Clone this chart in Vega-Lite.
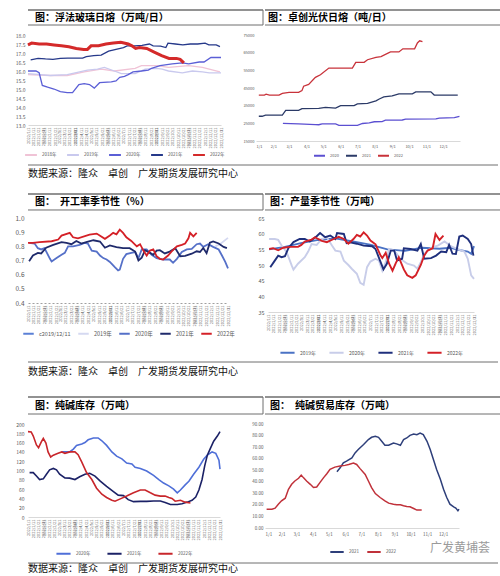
{
"$schema": "https://vega.github.io/schema/vega-lite/v6.json",
"padding": {"left": 5, "top": 9, "right": 5, "bottom": 0},
"background": "white",
"spacing": 4,
"resolve": {"scale": {"color": "independent"}, "legend": {"color": "independent"}},
"datasets": {
"g": [
{"d":"2022/01/01","s":"2018年","v":15.8},{"d":"2022/02/12","s":"2018年","v":15.75},{"d":"2022/03/16","s":"2018年","v":15.75},{"d":"2022/04/17","s":"2018年","v":15.95},{"d":"2022/05/19","s":"2018年","v":16.1},{"d":"2022/06/13","s":"2018年","v":16.0},{"d":"2022/07/22","s":"2018年","v":16.15},{"d":"2022/08/03","s":"2018年","v":16.3},{"d":"2022/09/01","s":"2018年","v":16.3},{"d":"2022/09/23","s":"2018年","v":16.2},{"d":"2022/10/31","s":"2018年","v":16.3},{"d":"2022/11/26","s":"2018年","v":16.2},{"d":"2022/12/29","s":"2018年","v":15.95},
{"d":"2022/01/01","s":"2019年","v":15.85},{"d":"2022/02/12","s":"2019年","v":15.75},{"d":"2022/03/16","s":"2019年","v":15.8},{"d":"2022/04/23","s":"2019年","v":16.05},{"d":"2022/05/12","s":"2019年","v":16.1},{"d":"2022/05/25","s":"2019年","v":16.2},{"d":"2022/06/13","s":"2019年","v":16.0},{"d":"2022/06/26","s":"2019年","v":15.85},{"d":"2022/07/22","s":"2019年","v":15.85},{"d":"2022/08/10","s":"2019年","v":16.1},{"d":"2022/09/01","s":"2019年","v":16.15},{"d":"2022/09/11","s":"2019年","v":16.1},{"d":"2022/09/23","s":"2019年","v":16.0},{"d":"2022/10/19","s":"2019年","v":15.9},{"d":"2022/11/07","s":"2019年","v":16.0},{"d":"2022/11/26","s":"2019年","v":15.95},{"d":"2022/12/09","s":"2019年","v":15.9},{"d":"2022/12/31","s":"2019年","v":15.9},
{"d":"2022/01/01","s":"2020年","v":16.0},{"d":"2022/01/16","s":"2020年","v":16.0},{"d":"2022/01/22","s":"2020年","v":15.9},{"d":"2022/01/28","s":"2020年","v":15.2},{"d":"2022/02/07","s":"2020年","v":15.1},{"d":"2022/02/19","s":"2020年","v":15.0},{"d":"2022/03/03","s":"2020年","v":14.85},{"d":"2022/03/16","s":"2020年","v":14.8},{"d":"2022/03/26","s":"2020年","v":14.8},{"d":"2022/04/07","s":"2020年","v":15.25},{"d":"2022/04/17","s":"2020年","v":15.3},{"d":"2022/04/27","s":"2020年","v":15.25},{"d":"2022/05/06","s":"2020年","v":15.05},{"d":"2022/05/16","s":"2020年","v":15.35},{"d":"2022/06/07","s":"2020年","v":15.4},{"d":"2022/06/16","s":"2020年","v":15.45},{"d":"2022/06/23","s":"2020年","v":15.65},{"d":"2022/07/02","s":"2020年","v":15.7},{"d":"2022/07/09","s":"2020年","v":15.8},{"d":"2022/07/18","s":"2020年","v":15.95},{"d":"2022/08/03","s":"2020年","v":16.0},{"d":"2022/08/16","s":"2020年","v":16.05},{"d":"2022/08/22","s":"2020年","v":16.15},{"d":"2022/09/07","s":"2020年","v":16.3},{"d":"2022/09/30","s":"2020年","v":16.4},{"d":"2022/10/19","s":"2020年","v":16.45},{"d":"2022/10/31","s":"2020年","v":16.4},{"d":"2022/11/20","s":"2020年","v":16.5},{"d":"2022/11/29","s":"2020年","v":16.5},{"d":"2022/12/12","s":"2020年","v":16.75},{"d":"2022/12/31","s":"2020年","v":16.75},
{"d":"2022/01/06","s":"2021年","v":16.62},{"d":"2022/01/20","s":"2021年","v":16.7},{"d":"2022/02/03","s":"2021年","v":16.67},{"d":"2022/02/17","s":"2021年","v":16.65},{"d":"2022/03/03","s":"2021年","v":16.7},{"d":"2022/03/17","s":"2021年","v":16.72},{"d":"2022/04/14","s":"2021年","v":16.72},{"d":"2022/04/21","s":"2021年","v":16.8},{"d":"2022/05/05","s":"2021年","v":16.85},{"d":"2022/05/19","s":"2021年","v":16.88},{"d":"2022/06/02","s":"2021年","v":17.1},{"d":"2022/06/16","s":"2021年","v":17.2},{"d":"2022/06/30","s":"2021年","v":17.3},{"d":"2022/07/07","s":"2021年","v":17.4},{"d":"2022/07/21","s":"2021年","v":17.4},{"d":"2022/08/04","s":"2021年","v":17.42},{"d":"2022/08/18","s":"2021年","v":17.5},{"d":"2022/08/25","s":"2021年","v":17.4},{"d":"2022/09/08","s":"2021年","v":17.38},{"d":"2022/09/18","s":"2021年","v":17.3},{"d":"2022/09/22","s":"2021年","v":17.55},{"d":"2022/10/06","s":"2021年","v":17.5},{"d":"2022/10/20","s":"2021年","v":17.45},{"d":"2022/11/03","s":"2021年","v":17.5},{"d":"2022/11/17","s":"2021年","v":17.5},{"d":"2022/12/01","s":"2021年","v":17.55},{"d":"2022/12/08","s":"2021年","v":17.45},{"d":"2022/12/22","s":"2021年","v":17.45},{"d":"2022/12/29","s":"2021年","v":17.35},
{"d":"2022/01/01","s":"2022年","v":17.45},{"d":"2022/01/08","s":"2022年","v":17.55},{"d":"2022/01/22","s":"2022年","v":17.5},{"d":"2022/02/05","s":"2022年","v":17.5},{"d":"2022/02/19","s":"2022年","v":17.45},{"d":"2022/03/05","s":"2022年","v":17.4},{"d":"2022/03/19","s":"2022年","v":17.35},{"d":"2022/04/02","s":"2022年","v":17.25},{"d":"2022/04/16","s":"2022年","v":17.2},{"d":"2022/04/23","s":"2022年","v":17.2},{"d":"2022/04/30","s":"2022年","v":17.4},{"d":"2022/05/14","s":"2022年","v":17.4},{"d":"2022/05/28","s":"2022年","v":17.5},{"d":"2022/06/11","s":"2022年","v":17.55},{"d":"2022/06/25","s":"2022年","v":17.6},{"d":"2022/07/09","s":"2022年","v":17.5},{"d":"2022/07/16","s":"2022年","v":17.4},{"d":"2022/07/23","s":"2022年","v":17.25},{"d":"2022/07/30","s":"2022年","v":17.3},{"d":"2022/08/13","s":"2022年","v":17.25},{"d":"2022/08/27","s":"2022年","v":17.05},{"d":"2022/09/10","s":"2022年","v":16.85},{"d":"2022/09/24","s":"2022年","v":16.7},{"d":"2022/10/08","s":"2022年","v":16.7},{"d":"2022/10/15","s":"2022年","v":16.65},{"d":"2022/10/22","s":"2022年","v":16.45}
],
"pv": [
{"d":"2022/02/18","s":"2020","v":25000},{"d":"2022/03/18","s":"2020","v":24700},{"d":"2022/04/17","s":"2020","v":24300},{"d":"2022/04/23","s":"2020","v":24200},{"d":"2022/04/29","s":"2020","v":24700},{"d":"2022/05/23","s":"2020","v":24700},{"d":"2022/05/29","s":"2020","v":23900},{"d":"2022/07/01","s":"2020","v":23900},{"d":"2022/07/10","s":"2020","v":24900},{"d":"2022/07/22","s":"2020","v":25300},{"d":"2022/07/31","s":"2020","v":25900},{"d":"2022/08/14","s":"2020","v":26000},{"d":"2022/08/20","s":"2020","v":26800},{"d":"2022/09/19","s":"2020","v":26900},{"d":"2022/09/25","s":"2020","v":27400},{"d":"2022/11/18","s":"2020","v":27500},{"d":"2022/11/24","s":"2020","v":28000},{"d":"2022/12/21","s":"2020","v":28200},{"d":"2022/12/30","s":"2020","v":29000},
{"d":"2022/01/06","s":"2021","v":29000},{"d":"2022/01/12","s":"2021","v":29000},{"d":"2022/01/18","s":"2021","v":29700},{"d":"2022/02/17","s":"2021","v":29700},{"d":"2022/02/23","s":"2021","v":32300},{"d":"2022/03/18","s":"2021","v":32300},{"d":"2022/03/24","s":"2021","v":33300},{"d":"2022/04/23","s":"2021","v":33500},{"d":"2022/05/05","s":"2021","v":34000},{"d":"2022/05/23","s":"2021","v":33600},{"d":"2022/06/01","s":"2021","v":35000},{"d":"2022/06/25","s":"2021","v":35000},{"d":"2022/07/01","s":"2021","v":36000},{"d":"2022/07/19","s":"2021","v":36300},{"d":"2022/08/03","s":"2021","v":37700},{"d":"2022/08/09","s":"2021","v":38800},{"d":"2022/08/17","s":"2021","v":40000},{"d":"2022/09/01","s":"2021","v":40500},{"d":"2022/09/13","s":"2021","v":41700},{"d":"2022/10/07","s":"2021","v":41700},{"d":"2022/10/13","s":"2021","v":42800},{"d":"2022/11/09","s":"2021","v":42800},{"d":"2022/11/15","s":"2021","v":41000},{"d":"2022/12/27","s":"2021","v":41000},
{"d":"2022/01/06","s":"2022","v":41000},{"d":"2022/01/16","s":"2022","v":41000},{"d":"2022/01/19","s":"2022","v":41500},{"d":"2022/01/25","s":"2022","v":41000},{"d":"2022/02/11","s":"2022","v":41000},{"d":"2022/02/17","s":"2022","v":42000},{"d":"2022/03/01","s":"2022","v":42500},{"d":"2022/03/18","s":"2022","v":42500},{"d":"2022/03/24","s":"2022","v":43500},{"d":"2022/03/27","s":"2022","v":46000},{"d":"2022/04/05","s":"2022","v":47000},{"d":"2022/04/17","s":"2022","v":51000},{"d":"2022/04/26","s":"2022","v":52500},{"d":"2022/05/11","s":"2022","v":56300},{"d":"2022/06/22","s":"2022","v":56300},{"d":"2022/06/28","s":"2022","v":59500},{"d":"2022/07/13","s":"2022","v":59500},{"d":"2022/07/19","s":"2022","v":61000},{"d":"2022/08/03","s":"2022","v":62300},{"d":"2022/08/12","s":"2022","v":62800},{"d":"2022/08/20","s":"2022","v":64000},{"d":"2022/08/29","s":"2022","v":65400},{"d":"2022/09/13","s":"2022","v":65400},{"d":"2022/09/20","s":"2022","v":67200},{"d":"2022/10/11","s":"2022","v":67200},{"d":"2022/10/16","s":"2022","v":70500},{"d":"2022/10/20","s":"2022","v":71700},{"d":"2022/10/25","s":"2022","v":71200}
],
"op": [
{"d":"2022/12/08","s":"2019年","v":0.80},{"d":"2022/12/18","s":"2019年","v":0.82},{"d":"2022/12/31","s":"2019年","v":0.86},
{"d":"2022/01/03","s":"2020年","v":0.824},{"d":"2022/01/13","s":"2020年","v":0.82},{"d":"2022/01/19","s":"2020年","v":0.787},{"d":"2022/01/25","s":"2020年","v":0.778},{"d":"2022/01/31","s":"2020年","v":0.787},{"d":"2022/02/10","s":"2020年","v":0.712},{"d":"2022/02/13","s":"2020年","v":0.693},{"d":"2022/02/22","s":"2020年","v":0.717},{"d":"2022/03/03","s":"2020年","v":0.74},{"d":"2022/03/09","s":"2020年","v":0.754},{"d":"2022/03/15","s":"2020年","v":0.80},{"d":"2022/03/24","s":"2020年","v":0.80},{"d":"2022/04/05","s":"2020年","v":0.81},{"d":"2022/04/14","s":"2020年","v":0.824},{"d":"2022/04/20","s":"2020年","v":0.82},{"d":"2022/04/27","s":"2020年","v":0.77},{"d":"2022/05/06","s":"2020年","v":0.763},{"d":"2022/05/12","s":"2020年","v":0.735},{"d":"2022/05/18","s":"2020年","v":0.717},{"d":"2022/05/24","s":"2020年","v":0.707},{"d":"2022/05/30","s":"2020年","v":0.69},{"d":"2022/06/08","s":"2020年","v":0.653},{"d":"2022/06/14","s":"2020年","v":0.63},{"d":"2022/06/17","s":"2020年","v":0.635},{"d":"2022/06/23","s":"2020年","v":0.712},{"d":"2022/06/29","s":"2020年","v":0.745},{"d":"2022/07/08","s":"2020年","v":0.754},{"d":"2022/07/15","s":"2020年","v":0.76},{"d":"2022/07/21","s":"2020年","v":0.717},{"d":"2022/07/27","s":"2020年","v":0.778},{"d":"2022/08/05","s":"2020年","v":0.778},{"d":"2022/08/14","s":"2020年","v":0.74},{"d":"2022/08/23","s":"2020年","v":0.717},{"d":"2022/08/29","s":"2020年","v":0.712},{"d":"2022/09/04","s":"2020年","v":0.707},{"d":"2022/09/16","s":"2020年","v":0.707},{"d":"2022/09/22","s":"2020年","v":0.684},{"d":"2022/09/29","s":"2020年","v":0.712},{"d":"2022/10/08","s":"2020年","v":0.76},{"d":"2022/10/17","s":"2020年","v":0.778},{"d":"2022/10/26","s":"2020年","v":0.782},{"d":"2022/11/04","s":"2020年","v":0.815},{"d":"2022/11/10","s":"2020年","v":0.82},{"d":"2022/11/16","s":"2020年","v":0.796},{"d":"2022/11/25","s":"2020年","v":0.815},{"d":"2022/12/04","s":"2020年","v":0.796},{"d":"2022/12/14","s":"2020年","v":0.778},{"d":"2022/12/20","s":"2020年","v":0.735},{"d":"2022/12/26","s":"2020年","v":0.69},{"d":"2022/12/31","s":"2020年","v":0.645},
{"d":"2022/01/03","s":"2021年","v":0.695},{"d":"2022/01/10","s":"2021年","v":0.735},{"d":"2022/01/19","s":"2021年","v":0.754},{"d":"2022/01/25","s":"2021年","v":0.75},{"d":"2022/02/03","s":"2021年","v":0.79},{"d":"2022/02/16","s":"2021年","v":0.81},{"d":"2022/03/03","s":"2021年","v":0.83},{"d":"2022/03/12","s":"2021年","v":0.824},{"d":"2022/03/21","s":"2021年","v":0.815},{"d":"2022/03/30","s":"2021年","v":0.838},{"d":"2022/04/08","s":"2021年","v":0.82},{"d":"2022/04/17","s":"2021年","v":0.83},{"d":"2022/04/30","s":"2021年","v":0.843},{"d":"2022/05/12","s":"2021年","v":0.834},{"d":"2022/05/21","s":"2021年","v":0.79},{"d":"2022/05/30","s":"2021年","v":0.806},{"d":"2022/06/11","s":"2021年","v":0.794},{"d":"2022/06/23","s":"2021年","v":0.787},{"d":"2022/07/05","s":"2021年","v":0.787},{"d":"2022/07/15","s":"2021年","v":0.763},{"d":"2022/07/21","s":"2021年","v":0.70},{"d":"2022/07/27","s":"2021年","v":0.72},{"d":"2022/08/02","s":"2021年","v":0.773},{"d":"2022/08/11","s":"2021年","v":0.754},{"d":"2022/08/17","s":"2021年","v":0.74},{"d":"2022/08/23","s":"2021年","v":0.77},{"d":"2022/08/29","s":"2021年","v":0.773},{"d":"2022/09/07","s":"2021年","v":0.75},{"d":"2022/09/16","s":"2021年","v":0.763},{"d":"2022/09/26","s":"2021年","v":0.787},{"d":"2022/10/05","s":"2021年","v":0.73},{"d":"2022/10/14","s":"2021年","v":0.732},{"d":"2022/10/26","s":"2021年","v":0.748},{"d":"2022/11/04","s":"2021年","v":0.765},{"d":"2022/11/10","s":"2021年","v":0.76},{"d":"2022/11/16","s":"2021年","v":0.788},{"d":"2022/11/22","s":"2021年","v":0.752},{"d":"2022/11/28","s":"2021年","v":0.826},{"d":"2022/12/04","s":"2021年","v":0.834},{"d":"2022/12/14","s":"2021年","v":0.82},{"d":"2022/12/23","s":"2021年","v":0.796},{"d":"2022/12/29","s":"2021年","v":0.787},
{"d":"2022/01/01","s":"2022年","v":0.824},{"d":"2022/01/10","s":"2022年","v":0.824},{"d":"2022/01/22","s":"2022年","v":0.83},{"d":"2022/02/13","s":"2022年","v":0.836},{"d":"2022/02/25","s":"2022年","v":0.848},{"d":"2022/03/03","s":"2022年","v":0.876},{"d":"2022/03/18","s":"2022年","v":0.895},{"d":"2022/03/24","s":"2022年","v":0.864},{"d":"2022/04/02","s":"2022年","v":0.857},{"d":"2022/04/23","s":"2022年","v":0.883},{"d":"2022/05/06","s":"2022年","v":0.89},{"d":"2022/05/21","s":"2022年","v":0.853},{"d":"2022/05/30","s":"2022年","v":0.876},{"d":"2022/06/05","s":"2022年","v":0.895},{"d":"2022/06/11","s":"2022年","v":0.885},{"d":"2022/06/17","s":"2022年","v":0.918},{"d":"2022/06/23","s":"2022年","v":0.895},{"d":"2022/06/29","s":"2022年","v":0.864},{"d":"2022/07/08","s":"2022年","v":0.838},{"d":"2022/07/18","s":"2022年","v":0.80},{"d":"2022/07/24","s":"2022年","v":0.815},{"d":"2022/07/30","s":"2022年","v":0.77},{"d":"2022/08/05","s":"2022年","v":0.735},{"d":"2022/08/11","s":"2022年","v":0.77},{"d":"2022/08/17","s":"2022年","v":0.778},{"d":"2022/08/23","s":"2022年","v":0.73},{"d":"2022/08/29","s":"2022年","v":0.712},{"d":"2022/09/04","s":"2022年","v":0.707},{"d":"2022/09/13","s":"2022年","v":0.735},{"d":"2022/09/19","s":"2022年","v":0.763},{"d":"2022/09/29","s":"2022年","v":0.80},{"d":"2022/10/08","s":"2022年","v":0.81},{"d":"2022/10/14","s":"2022年","v":0.82},{"d":"2022/10/20","s":"2022年","v":0.857},{"d":"2022/10/23","s":"2022年","v":0.895},{"d":"2022/10/29","s":"2022年","v":0.87},{"d":"2022/11/04","s":"2022年","v":0.895}
],
"pr": [
{"d":"2022/01/03","s":"2019年","v":55.0},{"d":"2022/01/31","s":"2019年","v":55.8},{"d":"2022/02/28","s":"2019年","v":57.0},{"d":"2022/03/31","s":"2019年","v":58.0},{"d":"2022/04/30","s":"2019年","v":58.5},{"d":"2022/05/31","s":"2019年","v":57.5},{"d":"2022/06/30","s":"2019年","v":56.5},{"d":"2022/07/31","s":"2019年","v":55.0},{"d":"2022/08/31","s":"2019年","v":54.5},{"d":"2022/09/30","s":"2019年","v":55.5},{"d":"2022/10/31","s":"2019年","v":55.2},{"d":"2022/11/20","s":"2019年","v":55.5},{"d":"2022/12/05","s":"2019年","v":54.8},{"d":"2022/12/20","s":"2019年","v":54.3},{"d":"2022/12/26","s":"2019年","v":53.6},{"d":"2022/12/31","s":"2019年","v":56.0},
{"d":"2022/01/03","s":"2020年","v":58.3},{"d":"2022/01/13","s":"2020年","v":58.3},{"d":"2022/01/19","s":"2020年","v":58.0},{"d":"2022/01/25","s":"2020年","v":56.2},{"d":"2022/02/03","s":"2020年","v":54.1},{"d":"2022/02/12","s":"2020年","v":49.8},{"d":"2022/02/15","s":"2020年","v":48.5},{"d":"2022/02/23","s":"2020年","v":50.4},{"d":"2022/03/07","s":"2020年","v":52.5},{"d":"2022/03/13","s":"2020年","v":54.3},{"d":"2022/03/19","s":"2020年","v":56.7},{"d":"2022/03/28","s":"2020年","v":56.4},{"d":"2022/04/06","s":"2020年","v":58.3},{"d":"2022/04/15","s":"2020年","v":58.85},{"d":"2022/04/24","s":"2020年","v":56.2},{"d":"2022/04/30","s":"2020年","v":54.6},{"d":"2022/05/09","s":"2020年","v":54.3},{"d":"2022/05/15","s":"2020年","v":51.4},{"d":"2022/05/23","s":"2020年","v":50.0},{"d":"2022/05/29","s":"2020年","v":48.8},{"d":"2022/06/07","s":"2020年","v":47.2},{"d":"2022/06/13","s":"2020年","v":44.3},{"d":"2022/06/19","s":"2020年","v":43.7},{"d":"2022/06/25","s":"2020年","v":49.3},{"d":"2022/07/01","s":"2020年","v":51.1},{"d":"2022/07/10","s":"2020年","v":52.0},{"d":"2022/07/16","s":"2020年","v":51.4},{"d":"2022/07/22","s":"2020年","v":48.2},{"d":"2022/07/28","s":"2020年","v":50.9},{"d":"2022/08/03","s":"2020年","v":55.1},{"d":"2022/08/12","s":"2020年","v":54.6},{"d":"2022/08/23","s":"2020年","v":52.0},{"d":"2022/09/04","s":"2020年","v":50.4},{"d":"2022/09/16","s":"2020年","v":49.8},{"d":"2022/09/22","s":"2020年","v":48.8},{"d":"2022/09/28","s":"2020年","v":50.9},{"d":"2022/10/04","s":"2020年","v":53.5},{"d":"2022/10/10","s":"2020年","v":54.6},{"d":"2022/10/19","s":"2020年","v":55.7},{"d":"2022/10/28","s":"2020年","v":56.2},{"d":"2022/11/09","s":"2020年","v":57.5},{"d":"2022/11/20","s":"2020年","v":56.0},{"d":"2022/12/02","s":"2020年","v":55.1},{"d":"2022/12/14","s":"2020年","v":54.3},{"d":"2022/12/20","s":"2020年","v":52.0},{"d":"2022/12/26","s":"2020年","v":46.7},{"d":"2022/12/31","s":"2020年","v":45.6},
{"d":"2022/01/05","s":"2021年","v":49.3},{"d":"2022/01/13","s":"2021年","v":51.4},{"d":"2022/01/19","s":"2021年","v":53.0},{"d":"2022/01/25","s":"2021年","v":52.5},{"d":"2022/01/31","s":"2021年","v":52.8},{"d":"2022/02/06","s":"2021年","v":55.35},{"d":"2022/02/15","s":"2021年","v":57.3},{"d":"2022/02/26","s":"2021年","v":58.3},{"d":"2022/03/07","s":"2021年","v":58.3},{"d":"2022/03/16","s":"2021年","v":57.5},{"d":"2022/03/28","s":"2021年","v":59.2},{"d":"2022/04/03","s":"2021年","v":60.2},{"d":"2022/04/12","s":"2021年","v":58.85},{"d":"2022/04/21","s":"2021年","v":59.4},{"d":"2022/04/30","s":"2021年","v":58.3},{"d":"2022/05/03","s":"2021年","v":60.2},{"d":"2022/05/15","s":"2021年","v":59.9},{"d":"2022/05/20","s":"2021年","v":57.0},{"d":"2022/05/26","s":"2021年","v":57.2},{"d":"2022/06/07","s":"2021年","v":56.8},{"d":"2022/06/19","s":"2021年","v":56.2},{"d":"2022/07/04","s":"2021年","v":56.0},{"d":"2022/07/10","s":"2021年","v":55.1},{"d":"2022/07/19","s":"2021年","v":50.9},{"d":"2022/07/24","s":"2021年","v":48.6},{"d":"2022/07/30","s":"2021年","v":50.4},{"d":"2022/08/06","s":"2021年","v":54.6},{"d":"2022/08/12","s":"2021年","v":54.6},{"d":"2022/08/17","s":"2021年","v":51.4},{"d":"2022/08/26","s":"2021年","v":52.0},{"d":"2022/08/29","s":"2021年","v":55.35},{"d":"2022/09/10","s":"2021年","v":55.1},{"d":"2022/09/22","s":"2021年","v":54.6},{"d":"2022/09/28","s":"2021年","v":56.7},{"d":"2022/10/04","s":"2021年","v":52.0},{"d":"2022/10/16","s":"2021年","v":52.2},{"d":"2022/10/25","s":"2021年","v":53.0},{"d":"2022/11/03","s":"2021年","v":54.3},{"d":"2022/11/12","s":"2021年","v":54.1},{"d":"2022/11/17","s":"2021年","v":56.4},{"d":"2022/11/23","s":"2021年","v":53.6},{"d":"2022/11/29","s":"2021年","v":53.5},{"d":"2022/12/05","s":"2021年","v":59.1},{"d":"2022/12/11","s":"2021年","v":59.4},{"d":"2022/12/20","s":"2021年","v":58.3},{"d":"2022/12/26","s":"2021年","v":56.7},{"d":"2022/12/30","s":"2021年","v":53.0},
{"d":"2022/01/03","s":"2022年","v":55.1},{"d":"2022/01/10","s":"2022年","v":55.35},{"d":"2022/01/19","s":"2022年","v":54.7},{"d":"2022/01/28","s":"2022年","v":55.5},{"d":"2022/02/09","s":"2022年","v":55.8},{"d":"2022/02/23","s":"2022年","v":55.8},{"d":"2022/03/01","s":"2022年","v":56.4},{"d":"2022/03/07","s":"2022年","v":57.5},{"d":"2022/03/19","s":"2022年","v":58.1},{"d":"2022/03/25","s":"2022年","v":58.85},{"d":"2022/04/06","s":"2022年","v":57.7},{"d":"2022/04/15","s":"2022年","v":57.3},{"d":"2022/04/27","s":"2022年","v":58.3},{"d":"2022/05/06","s":"2022年","v":59.0},{"d":"2022/05/15","s":"2022年","v":58.3},{"d":"2022/05/23","s":"2022年","v":56.8},{"d":"2022/06/01","s":"2022年","v":58.3},{"d":"2022/06/07","s":"2022年","v":59.6},{"d":"2022/06/13","s":"2022年","v":59.1},{"d":"2022/06/19","s":"2022年","v":60.4},{"d":"2022/06/25","s":"2022年","v":59.4},{"d":"2022/07/01","s":"2022年","v":57.8},{"d":"2022/07/10","s":"2022年","v":56.6},{"d":"2022/07/13","s":"2022年","v":55.35},{"d":"2022/07/19","s":"2022年","v":53.0},{"d":"2022/07/22","s":"2022年","v":52.2},{"d":"2022/07/28","s":"2022年","v":53.9},{"d":"2022/08/03","s":"2022年","v":50.4},{"d":"2022/08/09","s":"2022年","v":48.2},{"d":"2022/08/15","s":"2022年","v":50.7},{"d":"2022/08/20","s":"2022年","v":52.5},{"d":"2022/08/29","s":"2022年","v":48.6},{"d":"2022/09/04","s":"2022年","v":46.7},{"d":"2022/09/13","s":"2022年","v":45.9},{"d":"2022/09/19","s":"2022年","v":46.7},{"d":"2022/09/28","s":"2022年","v":50.0},{"d":"2022/10/04","s":"2022年","v":53.0},{"d":"2022/10/10","s":"2022年","v":54.6},{"d":"2022/10/19","s":"2022年","v":55.35},{"d":"2022/10/24","s":"2022年","v":59.9},{"d":"2022/10/31","s":"2022年","v":58.0},{"d":"2022/11/07","s":"2022年","v":59.4}
],
"inv": [
{"d":"2022/03/06","s":"2020年","v":140},{"d":"2022/03/21","s":"2020年","v":140},{"d":"2022/03/28","s":"2020年","v":146},{"d":"2022/04/03","s":"2020年","v":154},{"d":"2022/04/13","s":"2020年","v":157},{"d":"2022/04/19","s":"2020年","v":160},{"d":"2022/04/25","s":"2020年","v":166},{"d":"2022/05/05","s":"2020年","v":170},{"d":"2022/05/14","s":"2020年","v":170},{"d":"2022/05/21","s":"2020年","v":164},{"d":"2022/05/30","s":"2020年","v":154},{"d":"2022/06/09","s":"2020年","v":140},{"d":"2022/06/18","s":"2020年","v":131},{"d":"2022/06/28","s":"2020年","v":125},{"d":"2022/07/07","s":"2020年","v":116},{"d":"2022/07/17","s":"2020年","v":114},{"d":"2022/07/23","s":"2020年","v":107},{"d":"2022/08/02","s":"2020年","v":104.5},{"d":"2022/08/14","s":"2020年","v":99},{"d":"2022/08/27","s":"2020年","v":89.5},{"d":"2022/09/06","s":"2020年","v":80.6},{"d":"2022/09/15","s":"2020年","v":73},{"d":"2022/09/25","s":"2020年","v":67},{"d":"2022/10/04","s":"2020年","v":60},{"d":"2022/10/11","s":"2020年","v":52},{"d":"2022/10/17","s":"2020年","v":58},{"d":"2022/10/26","s":"2020年","v":69},{"d":"2022/11/02","s":"2020年","v":77},{"d":"2022/11/11","s":"2020年","v":92},{"d":"2022/11/21","s":"2020年","v":107},{"d":"2022/11/30","s":"2020年","v":124},{"d":"2022/12/07","s":"2020年","v":133},{"d":"2022/12/16","s":"2020年","v":140},{"d":"2022/12/23","s":"2020年","v":137},{"d":"2022/12/29","s":"2020年","v":122},{"d":"2022/12/31","s":"2020年","v":103},
{"d":"2022/01/04","s":"2021年","v":95.5},{"d":"2022/01/11","s":"2021年","v":95.5},{"d":"2022/01/17","s":"2021年","v":88},{"d":"2022/01/23","s":"2021年","v":80.6},{"d":"2022/01/30","s":"2021年","v":82},{"d":"2022/02/05","s":"2021年","v":92},{"d":"2022/02/11","s":"2021年","v":101.5},{"d":"2022/02/18","s":"2021年","v":104.5},{"d":"2022/02/24","s":"2021年","v":101.5},{"d":"2022/03/02","s":"2021年","v":92},{"d":"2022/03/12","s":"2021年","v":84},{"d":"2022/03/21","s":"2021年","v":83.6},{"d":"2022/03/31","s":"2021年","v":80.6},{"d":"2022/04/09","s":"2021年","v":86.6},{"d":"2022/04/19","s":"2021年","v":92},{"d":"2022/04/28","s":"2021年","v":94},{"d":"2022/05/08","s":"2021年","v":88},{"d":"2022/05/18","s":"2021年","v":77},{"d":"2022/05/30","s":"2021年","v":65.7},{"d":"2022/06/12","s":"2021年","v":54.5},{"d":"2022/06/21","s":"2021年","v":47},{"d":"2022/07/01","s":"2021年","v":46},{"d":"2022/07/10","s":"2021年","v":37.3},{"d":"2022/07/20","s":"2021年","v":33},{"d":"2022/08/02","s":"2021年","v":33.6},{"d":"2022/08/14","s":"2021年","v":33.6},{"d":"2022/08/27","s":"2021年","v":34.3},{"d":"2022/09/09","s":"2021年","v":34.3},{"d":"2022/09/18","s":"2021年","v":31.3},{"d":"2022/09/28","s":"2021年","v":27},{"d":"2022/10/11","s":"2021年","v":27},{"d":"2022/10/20","s":"2021年","v":28.4},{"d":"2022/10/30","s":"2021年","v":32},{"d":"2022/11/08","s":"2021年","v":36},{"d":"2022/11/15","s":"2021年","v":43},{"d":"2022/11/21","s":"2021年","v":58},{"d":"2022/11/27","s":"2021年","v":80.6},{"d":"2022/12/02","s":"2021年","v":110},{"d":"2022/12/07","s":"2021年","v":133},{"d":"2022/12/13","s":"2021年","v":148},{"d":"2022/12/19","s":"2021年","v":163},{"d":"2022/12/26","s":"2021年","v":174},{"d":"2022/12/31","s":"2021年","v":183.6},
{"d":"2022/01/01","s":"2022年","v":183.6},{"d":"2022/01/07","s":"2022年","v":183},{"d":"2022/01/11","s":"2022年","v":174},{"d":"2022/01/17","s":"2022年","v":155},{"d":"2022/01/21","s":"2022年","v":149},{"d":"2022/01/26","s":"2022年","v":161},{"d":"2022/01/30","s":"2022年","v":169},{"d":"2022/02/04","s":"2022年","v":159},{"d":"2022/02/08","s":"2022年","v":140},{"d":"2022/02/13","s":"2022年","v":129},{"d":"2022/02/18","s":"2022年","v":133},{"d":"2022/02/27","s":"2022年","v":137},{"d":"2022/03/06","s":"2022年","v":140},{"d":"2022/03/12","s":"2022年","v":137},{"d":"2022/03/21","s":"2022年","v":140},{"d":"2022/03/31","s":"2022年","v":140},{"d":"2022/04/06","s":"2022年","v":134},{"d":"2022/04/13","s":"2022年","v":118},{"d":"2022/04/22","s":"2022年","v":95.5},{"d":"2022/05/02","s":"2022年","v":80.6},{"d":"2022/05/11","s":"2022年","v":62},{"d":"2022/05/21","s":"2022年","v":49},{"d":"2022/05/30","s":"2022年","v":42},{"d":"2022/06/09","s":"2022年","v":36},{"d":"2022/06/15","s":"2022年","v":34},{"d":"2022/06/25","s":"2022年","v":39},{"d":"2022/07/07","s":"2022年","v":45},{"d":"2022/07/20","s":"2022年","v":52},{"d":"2022/08/02","s":"2022年","v":58},{"d":"2022/08/11","s":"2022年","v":58},{"d":"2022/08/21","s":"2022年","v":52},{"d":"2022/08/30","s":"2022年","v":47},{"d":"2022/09/09","s":"2022年","v":45},{"d":"2022/09/18","s":"2022年","v":45},{"d":"2022/09/25","s":"2022年","v":42},{"d":"2022/10/01","s":"2022年","v":40},{"d":"2022/10/07","s":"2022年","v":34},{"d":"2022/10/17","s":"2022年","v":36},{"d":"2022/10/26","s":"2022年","v":32},{"d":"2022/11/05","s":"2022年","v":30}
],
"tr": [
{"d":"2022/05/16","s":"2021","v":48.7},{"d":"2022/05/22","s":"2021","v":52.1},{"d":"2022/05/28","s":"2021","v":56.4},{"d":"2022/06/03","s":"2021","v":57.9},{"d":"2022/06/13","s":"2021","v":60.7},{"d":"2022/06/19","s":"2021","v":65},{"d":"2022/06/25","s":"2021","v":67.9},{"d":"2022/07/05","s":"2021","v":72.2},{"d":"2022/07/14","s":"2021","v":76.5},{"d":"2022/07/20","s":"2021","v":78.5},{"d":"2022/07/27","s":"2021","v":79.4},{"d":"2022/08/02","s":"2021","v":78.5},{"d":"2022/08/08","s":"2021","v":75},{"d":"2022/08/14","s":"2021","v":71.6},{"d":"2022/08/21","s":"2021","v":71.6},{"d":"2022/08/30","s":"2021","v":73.6},{"d":"2022/09/05","s":"2021","v":72.8},{"d":"2022/09/12","s":"2021","v":71.6},{"d":"2022/09/18","s":"2021","v":76.5},{"d":"2022/09/24","s":"2021","v":77.9},{"d":"2022/09/30","s":"2021","v":80.2},{"d":"2022/10/07","s":"2021","v":81.4},{"d":"2022/10/13","s":"2021","v":80.8},{"d":"2022/10/19","s":"2021","v":82.2},{"d":"2022/10/25","s":"2021","v":80.8},{"d":"2022/11/01","s":"2021","v":75},{"d":"2022/11/07","s":"2021","v":67.9},{"d":"2022/11/13","s":"2021","v":59.3},{"d":"2022/11/19","s":"2021","v":50.7},{"d":"2022/11/26","s":"2021","v":42.1},{"d":"2022/12/02","s":"2021","v":33.5},{"d":"2022/12/08","s":"2021","v":26.4},{"d":"2022/12/14","s":"2021","v":20.6},{"d":"2022/12/21","s":"2021","v":18.3},{"d":"2022/12/25","s":"2021","v":17.2},{"d":"2022/12/29","s":"2021","v":14.9},{"d":"2022/12/31","s":"2021","v":16.3},
{"d":"2022/01/04","s":"2022","v":16.3},{"d":"2022/01/14","s":"2022","v":16.3},{"d":"2022/01/20","s":"2022","v":17.2},{"d":"2022/01/26","s":"2022","v":20.6},{"d":"2022/02/01","s":"2022","v":23.5},{"d":"2022/02/08","s":"2022","v":25.8},{"d":"2022/02/14","s":"2022","v":33.5},{"d":"2022/02/20","s":"2022","v":37.8},{"d":"2022/02/26","s":"2022","v":40.7},{"d":"2022/03/05","s":"2022","v":43},{"d":"2022/03/10","s":"2022","v":45.8},{"d":"2022/03/14","s":"2022","v":43.6},{"d":"2022/03/20","s":"2022","v":40.7},{"d":"2022/03/27","s":"2022","v":37.8},{"d":"2022/04/02","s":"2022","v":35},{"d":"2022/04/08","s":"2022","v":35.5},{"d":"2022/04/14","s":"2022","v":39.3},{"d":"2022/04/21","s":"2022","v":43.6},{"d":"2022/04/27","s":"2022","v":47},{"d":"2022/05/03","s":"2022","v":50.7},{"d":"2022/05/12","s":"2022","v":52.7},{"d":"2022/05/22","s":"2022","v":53.6},{"d":"2022/05/31","s":"2022","v":54.2},{"d":"2022/06/07","s":"2022","v":55},{"d":"2022/06/16","s":"2022","v":56.2},{"d":"2022/06/22","s":"2022","v":55},{"d":"2022/06/28","s":"2022","v":51.6},{"d":"2022/07/08","s":"2022","v":46.4},{"d":"2022/07/14","s":"2022","v":40.7},{"d":"2022/07/20","s":"2022","v":35},{"d":"2022/07/27","s":"2022","v":29.8},{"d":"2022/08/05","s":"2022","v":26.4},{"d":"2022/08/14","s":"2022","v":23.5},{"d":"2022/08/21","s":"2022","v":21.5},{"d":"2022/08/30","s":"2022","v":20.6},{"d":"2022/09/05","s":"2022","v":20.1},{"d":"2022/09/12","s":"2022","v":20.1},{"d":"2022/09/18","s":"2022","v":19.2},{"d":"2022/09/24","s":"2022","v":18.6},{"d":"2022/09/30","s":"2022","v":18.3},{"d":"2022/10/07","s":"2022","v":16.9},{"d":"2022/10/13","s":"2022","v":15.5},{"d":"2022/10/22","s":"2022","v":15.5}
]
},
"vconcat": [
{
"hconcat": [
{"width": 235, "height": 19, "data": {"values": [{"t": "图：浮法玻璃日熔（万吨/日）"}]},
 "encoding": {"x": {"datum": 0, "type": "quantitative", "scale": {"domain": [0, 1]}, "axis": null}},
 "layer": [
  {"mark": {"type": "text", "align": "left", "baseline": "middle", "dx": 7, "fontSize": 10, "fontWeight": "bold", "color": "#000000"},
   "encoding": {"y": {"datum": 0.605, "type": "quantitative", "scale": {"domain": [0, 1]}, "axis": null}, "text": {"field": "t"}}},
  {"mark": {"type": "rule", "color": "#6e6e6e", "strokeWidth": 1.5}, "encoding": {"x2": {"datum": 1}, "y": {"datum": 1, "type": "quantitative", "axis": null}}},
  {"mark": {"type": "rule", "color": "#6e6e6e", "strokeWidth": 1}, "encoding": {"x2": {"datum": 1}, "y": {"datum": 0.2105, "type": "quantitative", "axis": null}}},
  {"mark": {"type": "rule", "color": "#6e6e6e", "strokeWidth": 1}, "encoding": {"x": {"datum": 1, "type": "quantitative", "axis": null}, "y": {"datum": 1, "type": "quantitative", "axis": null}, "y2": {"datum": 0.2105}}}
 ]},
{"width": 235, "height": 19, "data": {"values": [{"t": "图：卓创光伏日熔（吨/日）"}]},
 "encoding": {"x": {"datum": 0, "type": "quantitative", "scale": {"domain": [0, 1]}, "axis": null}},
 "layer": [
  {"mark": {"type": "text", "align": "left", "baseline": "middle", "dx": 3, "fontSize": 10, "fontWeight": "bold", "color": "#000000"},
   "encoding": {"y": {"datum": 0.605, "type": "quantitative", "scale": {"domain": [0, 1]}, "axis": null}, "text": {"field": "t"}}},
  {"mark": {"type": "rule", "color": "#6e6e6e", "strokeWidth": 1.5}, "encoding": {"x2": {"datum": 1}, "y": {"datum": 1, "type": "quantitative", "axis": null}}},
  {"mark": {"type": "rule", "color": "#6e6e6e", "strokeWidth": 1}, "encoding": {"x2": {"datum": 1}, "y": {"datum": 0.2105, "type": "quantitative", "axis": null}}}
 ]}
],
"spacing": 0
},
{
"hconcat": [
{"width": 193, "height": 90, "data": {"name": "g"},
 "encoding": {
  "x": {"field": "d", "type": "temporal", "scale": {"domain": [{"year": 2022, "month": 1, "date": 1}, {"year": 2022, "month": 12, "date": 31}]}, "axis": {"title": null, "format": "%Y/%-m/%-d", "labelAngle": -90, "labelFontSize": 4, "tickCount": {"interval": "day", "step": 10}, "labelOverlap": false, "labelPadding": 2}},
  "y": {"field": "v", "type": "quantitative", "scale": {"domain": [13, 18]}, "axis": {"title": null, "values": [13, 13.5, 14, 14.5, 15, 15.5, 16, 16.5, 17, 17.5, 18], "labelFontSize": 5, "minExtent": 20, "labelPadding": 3}},
  "color": {"field": "s", "type": "nominal", "scale": {"domain": ["2018年", "2019年", "2020年", "2021年", "2022年"], "range": ["#f0c3d6", "#c9c9ee", "#5b5fd6", "#26398a", "#d42a2a"]}, "legend": {"title": null, "orient": "bottom", "direction": "horizontal", "labelFontSize": 4.5, "symbolSize": 140, "columnPadding": 6, "offset": 0}}
 },
 "layer": [
  {"mark": {"type": "line", "strokeWidth": 1.3}},
  {"transform": [{"filter": "datum.s === '2022年'"}], "mark": {"type": "line", "strokeWidth": 3}}
 ]},
{"width": 204, "height": 106, "data": {"name": "pv"},
 "mark": {"type": "line", "strokeWidth": 1.3},
 "encoding": {
  "x": {"field": "d", "type": "temporal", "scale": {"domain": [{"year": 2022, "month": 1, "date": 1}, {"year": 2022, "month": 12, "date": 31}]}, "axis": {"title": null, "format": "%-m/%-d", "labelAngle": 0, "labelFontSize": 4, "tickCount": {"interval": "month", "step": 1}, "labelPadding": 3}},
  "y": {"field": "v", "type": "quantitative", "scale": {"domain": [15000, 75000]}, "axis": {"title": null, "values": [15000, 25000, 35000, 45000, 55000, 65000, 75000], "format": "d", "labelFontSize": 4, "minExtent": 14}},
  "color": {"field": "s", "type": "nominal", "scale": {"domain": ["2020", "2021", "2022"], "range": ["#5b4fd1", "#2b3a67", "#c8323a"]}, "legend": {"title": null, "orient": "bottom", "direction": "horizontal", "labelFontSize": 4, "symbolSize": 120, "columnPadding": 3, "offset": 1}}
 }}
],
"spacing": 17,
"resolve": {"scale": {"color": "independent"}, "legend": {"color": "independent"}}
},
{"width": 470, "height": 24, "data": {"values": [{"t": "数据来源：隆众　卓创　广发期货发展研究中心"}]},
 "encoding": {"x": {"datum": 0, "type": "quantitative", "scale": {"domain": [0, 1]}, "axis": null}},
 "layer": [
  {"mark": {"type": "text", "align": "left", "baseline": "middle", "fontSize": 10, "color": "#111111"},
   "encoding": {"y": {"datum": 0.64, "type": "quantitative", "scale": {"domain": [0, 1]}, "axis": null}, "text": {"field": "t"}}},
  {"mark": {"type": "rule", "color": "#6e6e6e", "strokeWidth": 1}, "encoding": {"x2": {"datum": 1}, "y": {"datum": 1, "type": "quantitative", "axis": null}}}
 ]},
{
"hconcat": [
{"width": 235, "height": 17, "data": {"values": [{"t": "图：　开工率季节性（%）"}]},
 "encoding": {"x": {"datum": 0, "type": "quantitative", "scale": {"domain": [0, 1]}, "axis": null}},
 "layer": [
  {"mark": {"type": "text", "align": "left", "baseline": "middle", "dx": 7, "fontSize": 10, "fontWeight": "bold", "color": "#000000"},
   "encoding": {"y": {"datum": 0.53, "type": "quantitative", "scale": {"domain": [0, 1]}, "axis": null}, "text": {"field": "t"}}},
  {"mark": {"type": "rule", "color": "#6e6e6e", "strokeWidth": 1.5}, "encoding": {"x2": {"datum": 1}, "y": {"datum": 1, "type": "quantitative", "axis": null}}},
  {"mark": {"type": "rule", "color": "#6e6e6e", "strokeWidth": 1}, "encoding": {"x2": {"datum": 1}, "y": {"datum": 0.06, "type": "quantitative", "axis": null}}},
  {"mark": {"type": "rule", "color": "#6e6e6e", "strokeWidth": 1}, "encoding": {"x": {"datum": 1, "type": "quantitative", "axis": null}, "y": {"datum": 1, "type": "quantitative", "axis": null}, "y2": {"datum": 0.06}}}
 ]},
{"width": 235, "height": 17, "data": {"values": [{"t": "图：产量季节性（万吨）"}]},
 "encoding": {"x": {"datum": 0, "type": "quantitative", "scale": {"domain": [0, 1]}, "axis": null}},
 "layer": [
  {"mark": {"type": "text", "align": "left", "baseline": "middle", "dx": 5, "fontSize": 10, "fontWeight": "bold", "color": "#000000"},
   "encoding": {"y": {"datum": 0.53, "type": "quantitative", "scale": {"domain": [0, 1]}, "axis": null}, "text": {"field": "t"}}},
  {"mark": {"type": "rule", "color": "#6e6e6e", "strokeWidth": 1.5}, "encoding": {"x2": {"datum": 1}, "y": {"datum": 1, "type": "quantitative", "axis": null}}},
  {"mark": {"type": "rule", "color": "#6e6e6e", "strokeWidth": 1}, "encoding": {"x2": {"datum": 1}, "y": {"datum": 0.06, "type": "quantitative", "axis": null}}}
 ]}
],
"spacing": 0
},
{
"hconcat": [
{"width": 200, "height": 85, "data": {"name": "op"},
 "mark": {"type": "line", "strokeWidth": 1.8},
 "encoding": {
  "x": {"field": "d", "type": "temporal", "scale": {"domain": [{"year": 2022, "month": 1, "date": 1}, {"year": 2022, "month": 12, "date": 31}]}, "axis": {"title": null, "format": "%Y/%-m/%-d", "labelAngle": -90, "labelFontSize": 4, "tickCount": {"interval": "day", "step": 10}, "labelOverlap": false, "labelPadding": 2, "domainDash": [2, 2], "domainColor": "#a0a0a0"}},
  "y": {"field": "v", "type": "quantitative", "scale": {"domain": [0.4, 1]}, "axis": {"title": null, "values": [0.4, 0.5, 0.6, 0.7, 0.8, 0.9, 1], "labelFontSize": 6.5, "minExtent": 20, "labelPadding": 4}},
  "color": {"field": "s", "type": "nominal", "scale": {"domain": ["c2019/12/11", "2019年", "2020年", "2021年", "2022年"], "range": ["#5b80d6", "#d5d9f1", "#5570c8", "#1f2a6b", "#d42027"]}, "legend": {"title": null, "orient": "bottom", "direction": "horizontal", "labelFontSize": 5.5, "symbolSize": 110, "columnPadding": 3, "offset": 1}}
 }},
{"width": 206, "height": 94, "data": {"name": "pr"},
 "mark": {"type": "line", "strokeWidth": 1.9},
 "encoding": {
  "x": {"field": "d", "type": "temporal", "scale": {"domain": [{"year": 2022, "month": 1, "date": 1}, {"year": 2022, "month": 12, "date": 31}]}, "axis": {"title": null, "format": "%Y/%-m/%-d", "labelAngle": -90, "labelFontSize": 4, "tickCount": {"interval": "day", "step": 10}, "labelOverlap": false, "labelPadding": 2}},
  "y": {"field": "v", "type": "quantitative", "scale": {"domain": [35, 65]}, "axis": {"title": null, "values": [35, 40, 45, 50, 55, 60, 65], "labelFontSize": 5.5, "minExtent": 16, "labelPadding": 4}},
  "color": {"field": "s", "type": "nominal", "scale": {"domain": ["2019年", "2020年", "2021年", "2022年"], "range": ["#4a72c4", "#c8cde9", "#1f2f7c", "#d42027"]}, "legend": {"title": null, "orient": "bottom", "direction": "horizontal", "labelFontSize": 5, "symbolSize": 200, "columnPadding": 8, "offset": 9}}
 }}
],
"spacing": 17,
"resolve": {"scale": {"color": "independent"}, "legend": {"color": "independent"}}
},
{"width": 470, "height": 30, "data": {"values": [{"t": "数据来源：隆众　卓创　广发期货发展研究中心"}]},
 "encoding": {"x": {"datum": 0, "type": "quantitative", "scale": {"domain": [0, 1]}, "axis": null}},
 "layer": [
  {"mark": {"type": "text", "align": "left", "baseline": "middle", "fontSize": 10, "color": "#111111"},
   "encoding": {"y": {"datum": 0.68, "type": "quantitative", "scale": {"domain": [0, 1]}, "axis": null}, "text": {"field": "t"}}},
  {"mark": {"type": "rule", "color": "#6e6e6e", "strokeWidth": 1}, "encoding": {"x2": {"datum": 1}, "y": {"datum": 1, "type": "quantitative", "axis": null}}}
 ]},
{
"hconcat": [
{"width": 235, "height": 20, "data": {"values": [{"t": "图：纯碱库存（万吨）"}]},
 "encoding": {"x": {"datum": 0, "type": "quantitative", "scale": {"domain": [0, 1]}, "axis": null}},
 "layer": [
  {"mark": {"type": "text", "align": "left", "baseline": "middle", "dx": 7, "fontSize": 10, "fontWeight": "bold", "color": "#000000"},
   "encoding": {"y": {"datum": 0.575, "type": "quantitative", "scale": {"domain": [0, 1]}, "axis": null}, "text": {"field": "t"}}},
  {"mark": {"type": "rule", "color": "#6e6e6e", "strokeWidth": 1.5}, "encoding": {"x2": {"datum": 1}, "y": {"datum": 1, "type": "quantitative", "axis": null}}},
  {"mark": {"type": "rule", "color": "#6e6e6e", "strokeWidth": 1}, "encoding": {"x2": {"datum": 1}, "y": {"datum": 0.15, "type": "quantitative", "axis": null}}},
  {"mark": {"type": "rule", "color": "#6e6e6e", "strokeWidth": 1}, "encoding": {"x": {"datum": 1, "type": "quantitative", "axis": null}, "y": {"datum": 1, "type": "quantitative", "axis": null}, "y2": {"datum": 0.15}}}
 ]},
{"width": 235, "height": 20, "data": {"values": [{"t": "图：　纯碱贸易库存（万吨）"}]},
 "encoding": {"x": {"datum": 0, "type": "quantitative", "scale": {"domain": [0, 1]}, "axis": null}},
 "layer": [
  {"mark": {"type": "text", "align": "left", "baseline": "middle", "dx": 5, "fontSize": 10, "fontWeight": "bold", "color": "#000000"},
   "encoding": {"y": {"datum": 0.575, "type": "quantitative", "scale": {"domain": [0, 1]}, "axis": null}, "text": {"field": "t"}}},
  {"mark": {"type": "rule", "color": "#6e6e6e", "strokeWidth": 1.5}, "encoding": {"x2": {"datum": 1}, "y": {"datum": 1, "type": "quantitative", "axis": null}}},
  {"mark": {"type": "rule", "color": "#6e6e6e", "strokeWidth": 1}, "encoding": {"x2": {"datum": 1}, "y": {"datum": 0.15, "type": "quantitative", "axis": null}}}
 ]}
],
"spacing": 0
},
{
"hconcat": [
{"width": 192, "height": 93, "data": {"name": "inv"},
 "mark": {"type": "line", "strokeWidth": 1.6},
 "encoding": {
  "x": {"field": "d", "type": "temporal", "scale": {"domain": [{"year": 2022, "month": 1, "date": 1}, {"year": 2022, "month": 12, "date": 31}]}, "axis": {"title": null, "format": "%Y/%-m/%-d", "labelAngle": -90, "labelFontSize": 4, "tickCount": {"interval": "day", "step": 10}, "labelOverlap": false, "labelPadding": 2}},
  "y": {"field": "v", "type": "quantitative", "scale": {"domain": [0, 200]}, "axis": {"title": null, "values": [0, 20, 40, 60, 80, 100, 120, 140, 160, 180, 200], "labelFontSize": 5, "minExtent": 23, "labelPadding": 4}},
  "color": {"field": "s", "type": "nominal", "scale": {"domain": ["2020年", "2021年", "2022年"], "range": ["#4f6fd8", "#1b2166", "#c8262b"]}, "legend": {"title": null, "orient": "bottom", "direction": "horizontal", "labelFontSize": 4.5, "symbolSize": 200, "columnPadding": 12, "offset": 5}}
 }},
{"width": 194, "height": 104, "data": {"name": "tr"},
 "title": {"text": "广发黄埔荟", "orient": "bottom", "anchor": "end", "fontSize": 12, "fontWeight": "normal", "color": "#9a9a9a", "offset": -13, "dx": 28},
 "mark": {"type": "line", "strokeWidth": 1.5},
 "encoding": {
  "x": {"field": "d", "type": "temporal", "scale": {"domain": [{"year": 2022, "month": 1, "date": 1}, {"year": 2022, "month": 12, "date": 31}]}, "axis": {"title": null, "format": "%-m/%-d", "labelAngle": 0, "labelFontSize": 4.5, "tickCount": {"interval": "month", "step": 1}, "labelPadding": 3}},
  "y": {"field": "v", "type": "quantitative", "scale": {"domain": [0, 90]}, "axis": {"title": null, "values": [0, 10, 20, 30, 40, 50, 60, 70, 80, 90], "format": ".2f", "labelFontSize": 4.5, "minExtent": 18}},
  "color": {"field": "s", "type": "nominal", "scale": {"domain": ["2021", "2022"], "range": ["#2e3f7a", "#c0313a"]}, "legend": {"title": null, "orient": "bottom", "direction": "horizontal", "labelFontSize": 4.5, "symbolSize": 180, "columnPadding": 4, "offset": 8}}
 }}
],
"spacing": 23,
"resolve": {"scale": {"color": "independent"}, "legend": {"color": "independent"}}
},
{"width": 470, "height": 12, "data": {"values": [{"t": "数据来源：隆众　卓创　广发期货发展研究中心"}]},
 "encoding": {"x": {"datum": 0, "type": "quantitative", "scale": {"domain": [0, 1]}, "axis": null}},
 "layer": [
  {"mark": {"type": "text", "align": "left", "baseline": "middle", "fontSize": 10, "color": "#111111"},
   "encoding": {"y": {"datum": 0.5, "type": "quantitative", "scale": {"domain": [0, 1]}, "axis": null}, "text": {"field": "t"}}},
  {"mark": {"type": "rule", "color": "#6e6e6e", "strokeWidth": 1}, "encoding": {"x2": {"datum": 1}, "y": {"datum": 1, "type": "quantitative", "axis": null}}}
 ]}
],
"config": {
 "view": {"stroke": null},
 "font": "Noto Sans CJK SC",
 "axis": {"grid": false, "ticks": false, "labelColor": "#595959", "domainColor": "#d9d9d9", "labelFont": "Noto Sans CJK SC"},
 "axisY": {"domain": false},
 "legend": {"labelColor": "#595959", "symbolType": "stroke", "symbolStrokeWidth": 2, "labelFont": "Noto Sans CJK SC", "layout": {"bottom": {"anchor": "middle"}}}
}
}
